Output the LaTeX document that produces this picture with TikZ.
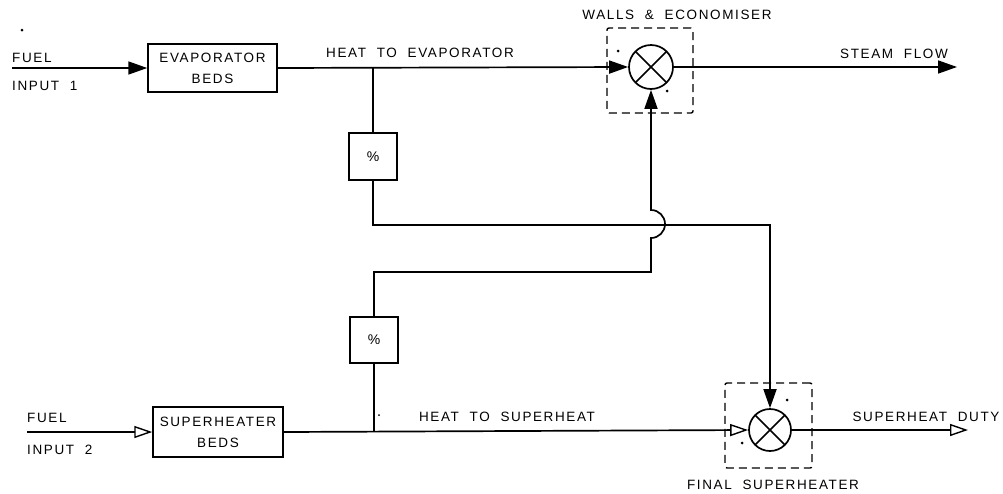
\documentclass[tikz,border=0pt]{standalone}
\usepackage{fontspec}
\newfontfamily\lblfont[LetterSpace=12,WordSpace=2]{Liberation Sans}
\usetikzlibrary{arrows.meta}
\tikzset{
  ln/.style={line width=1.7pt},
  fa/.style={-{Triangle[length=19pt,width=13pt]}},
  oa/.style={-{Triangle[open,length=18pt,width=12pt,line width=1.4pt]}},
  lbl/.style={font=\lblfont\fontsize{13.5}{21}\selectfont, inner sep=0pt},
  blk/.style={draw, line width=1.5pt, lbl, align=center},
  pctbox/.style={draw, line width=1.5pt, minimum width=48pt, minimum height=47pt, font=\lblfont\fontsize{14}{16}\selectfont, inner sep=0pt},
  summer/.style={circle, draw, line width=1.7pt, inner sep=0pt, fill=white,
    path picture={\draw[line width=1.5pt] (path picture bounding box.north west) -- (path picture bounding box.south east)
                   (path picture bounding box.north east) -- (path picture bounding box.south west);}},
  dbox/.style={draw, line width=1.4pt, dash pattern=on 8pt off 5pt, rounded corners=2pt, inner sep=0pt},
  sgn/.style={circle, fill, inner sep=0pt, minimum size=3pt}
}
\begin{document}
\begin{tikzpicture}[x=1pt,y=-1pt]
\useasboundingbox (0,0) rectangle (1003,493);

% blocks
\node[blk, minimum width=129pt, minimum height=48pt] (evap) at (212.5,68) {EVAPORATOR\\BEDS};
\node[blk, minimum width=130pt, minimum height=50pt] (sup) at (218,432) {SUPERHEATER\\BEDS};
\node[pctbox] (pct1) at (373,156.5) {\%};
\node[pctbox, minimum height=46pt] (pct2) at (374,340) {\%};

% summing junctions
\node[dbox, minimum width=86pt, minimum height=85pt] (d1) at (650,70.5) {};
\node[dbox, minimum width=87pt, minimum height=85pt] (d2) at (768.5,425.5) {};
\node[summer, minimum size=44pt] (s1) at (651,67) {};
\node[summer, minimum size=42pt] (s2) at (770,430) {};

% coordinates
\coordinate (f1) at (12,68);
\coordinate (f2) at (27,432);
\coordinate (steam) at (957,67);
\coordinate (duty) at (968,430);
\coordinate (j1) at (373,68);
\coordinate (j2) at (374,432);
\coordinate (k1) at (770,225);
\coordinate (k2) at (651,272);
\coordinate (h1) at (651,238);
\coordinate (h2) at (651,210);

% connectors
\draw[ln,fa] (f1) -- (evap.west);
\draw[ln,fa] (evap.east) -- (s1.west);
\draw[ln,fa] (s1.east) -- (steam);
\draw[ln] (j1) -- (pct1.north);
\draw[ln,fa] (pct1.south) |- (k1) -- (s2.north);
\draw[ln,oa] (f2) -- (sup.west);
\draw[ln,oa] (sup.east) -- (s2.west);
\draw[ln,oa] (s2.east) -- (duty);
\draw[ln] (j2) -- (pct2.south);
\draw[ln,fa] (pct2.north) |- (k2) -- (h1) arc[start angle=90, end angle=-90, radius=14] -- (s1.south);

% sign marks
\node[sgn] (m1) at (618,51) {};
\node[sgn] (m2) at (667,91) {};
\node[sgn] (m3) at (787,400) {};
\node[sgn] (m4) at (742,443) {};
\node[sgn] (m5) at (22,30) {};
\node[sgn, minimum size=2pt] (m6) at (379,415) {};

% labels
\node[lbl, anchor=west] (t1) at (12,58) {FUEL};
\node[lbl, anchor=west] (t2) at (12,86) {INPUT 1};
\node[lbl, anchor=west] (t3) at (27,418) {FUEL};
\node[lbl, anchor=west] (t4) at (27,450) {INPUT 2};
\node[lbl] (t5) at (420,53) {HEAT TO EVAPORATOR};
\node[lbl] (t6) at (677,15) {WALLS \& ECONOMISER};
\node[lbl] (t7) at (894,54) {STEAM FLOW};
\node[lbl] (t8) at (507,417) {HEAT TO SUPERHEAT};
\node[lbl] (t9) at (926,417) {SUPERHEAT DUTY};
\node[lbl] (t10) at (773,485) {FINAL SUPERHEATER};
\end{tikzpicture}
\end{document}
